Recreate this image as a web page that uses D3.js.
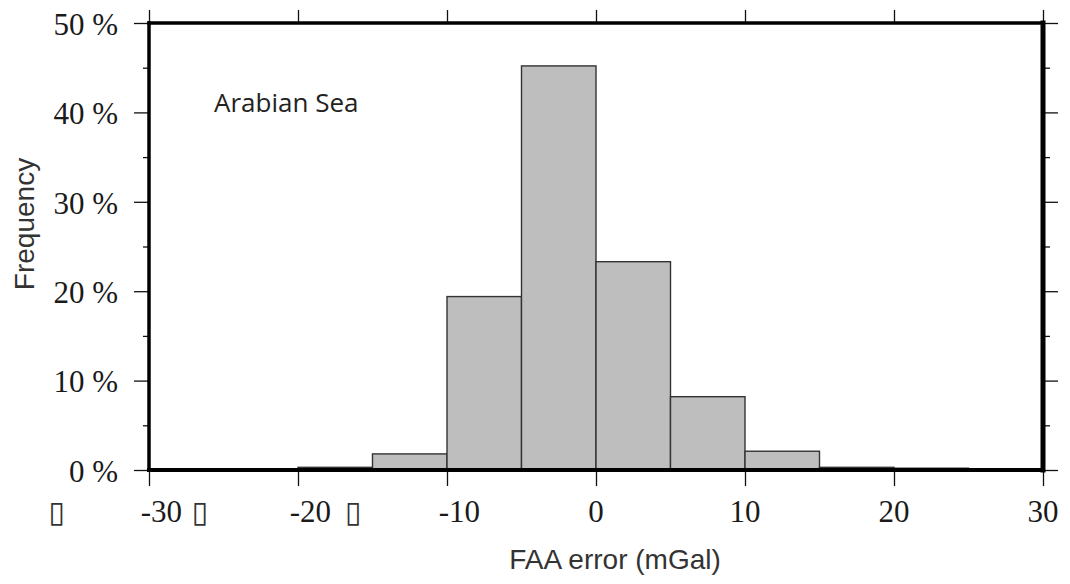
<!DOCTYPE html>
<html>
<head>
<meta charset="utf-8">
<script src="https://cdn.jsdelivr.net/npm/d3@7.9.0/dist/d3.min.js"></script>
<style>
  body { margin: 0; background: #fff; }
  svg { display: block; }
  .tick-label { font-family: "Liberation Serif", "Times New Roman", serif; font-size: 31px; fill: #1a1a1a; }
  .axis-title { font-family: "Liberation Sans", Arial, sans-serif; font-size: 28px; fill: #333; }
  .region { font-family: "Open Sans", "Noto Sans", sans-serif; font-size: 26px; fill: #222; }
  .missing { font-family: "DejaVu Sans", sans-serif; font-size: 30px; fill: #333; }
</style>
</head>
<body>
<div id="chart"></div>
<script>
// histogram bins (mGal) and frequency (%)
const binStarts = [-20, -15, -10, -5, 0, 5, 10, 15, 20];
const binWidth = 5;
const freqs = [0.3, 1.8, 19.4, 45.2, 23.3, 8.2, 2.1, 0.3, 0.2];

const xTicks = [-30, -20, -10, 0, 10, 20, 30];
const yTicks = [0, 10, 20, 30, 40, 50];
const yMinor = [5, 15, 25, 35, 45];

// stray glyph boxes from the original export, in x units
const boxMarks = [-36.2, -26.6, -16.3];

const width = 1070;
const height = 584;
const margin = { top: 23, right: 27, bottom: 114, left: 149 };

const svg = d3.select("#chart")
  .append("svg")
  .attr("width", width)
  .attr("height", height);

const x = d3.scaleLinear()
  .domain([-30, 30])
  .range([margin.left, width - margin.right]);

const y = d3.scaleLinear()
  .domain([0, 50])
  .range([height - margin.bottom, margin.top]);

const bins = binStarts.map((b, i) => ({ x0: b, x1: b + binWidth, v: freqs[i] }));

svg.append("g")
  .selectAll("rect")
  .data(bins)
  .join("rect")
  .attr("x", d => x(d.x0))
  .attr("y", d => y(d.v))
  .attr("width", d => x(d.x1) - x(d.x0))
  .attr("height", d => y(0) - y(d.v))
  .attr("fill", "#bebebe")
  .attr("stroke", "#333")
  .attr("stroke-width", 1.4);

// axes with ticks pointing outward
function styleAxis(g) {
  g.select(".domain").remove();
  g.selectAll(".tick line").attr("stroke", "#111").attr("stroke-width", 1.3);
}

svg.append("g")
  .attr("transform", `translate(0,${y(0)})`)
  .call(d3.axisBottom(x).tickValues(xTicks).tickSize(16).tickFormat(""))
  .call(styleAxis);

svg.append("g")
  .attr("transform", `translate(0,${y(50)})`)
  .call(d3.axisTop(x).tickValues(xTicks).tickSize(13).tickFormat(""))
  .call(styleAxis);

svg.append("g")
  .attr("transform", `translate(${x(-30)},0)`)
  .call(d3.axisLeft(y).tickValues(yTicks).tickSize(15).tickFormat(""))
  .call(styleAxis);

svg.append("g")
  .attr("transform", `translate(${x(-30)},0)`)
  .call(d3.axisLeft(y).tickValues(yMinor).tickSize(6).tickFormat(""))
  .call(styleAxis);

svg.append("g")
  .attr("transform", `translate(${x(30)},0)`)
  .call(d3.axisRight(y).tickValues(yTicks).tickSize(15).tickFormat(""))
  .call(styleAxis);

svg.append("g")
  .attr("transform", `translate(${x(30)},0)`)
  .call(d3.axisRight(y).tickValues(yMinor).tickSize(7).tickFormat(""))
  .call(styleAxis);

// frame
const frame = svg.append("g").attr("stroke", "#000").attr("stroke-linecap", "square");
frame.append("line").attr("x1", x(-30)).attr("x2", x(30)).attr("y1", y(50)).attr("y2", y(50)).attr("stroke-width", 3.5);
frame.append("line").attr("x1", x(-30)).attr("x2", x(30)).attr("y1", y(0)).attr("y2", y(0)).attr("stroke-width", 4);
frame.append("line").attr("x1", x(-30)).attr("x2", x(-30)).attr("y1", y(0)).attr("y2", y(50)).attr("stroke-width", 3.5);
frame.append("line").attr("x1", x(30)).attr("x2", x(30)).attr("y1", y(0)).attr("y2", y(50)).attr("stroke-width", 5);

// tick labels
svg.append("g")
  .selectAll("text")
  .data(xTicks)
  .join("text")
  .attr("class", "tick-label")
  .attr("x", d => x(d))
  .attr("dx", d => d < 0 ? "0.4em" : 0)
  .attr("y", y(0) + 52)
  .attr("text-anchor", "middle")
  .text(d => d);

svg.append("g")
  .selectAll("text")
  .data(yTicks)
  .join("text")
  .attr("class", "tick-label")
  .attr("x", x(-30) - 31)
  .attr("y", d => y(d))
  .attr("dy", "0.38em")
  .attr("text-anchor", "end")
  .text(d => `${d} %`);

svg.append("g")
  .selectAll("text")
  .data(boxMarks)
  .join("text")
  .attr("class", "missing")
  .attr("x", d => x(d))
  .attr("y", y(0) + 52)
  .attr("text-anchor", "middle")
  .text("\u25AF");

// titles
svg.append("text")
  .attr("class", "axis-title")
  .attr("x", 615)
  .attr("y", 569)
  .attr("text-anchor", "middle")
  .text("FAA error (mGal)");

svg.append("text")
  .attr("class", "axis-title")
  .attr("transform", "translate(34,224) rotate(-90)")
  .attr("text-anchor", "middle")
  .text("Frequency");

svg.append("text")
  .attr("class", "region")
  .attr("x", 214)
  .attr("y", 112)
  .text("Arabian Sea");
</script>
</body>
</html>
